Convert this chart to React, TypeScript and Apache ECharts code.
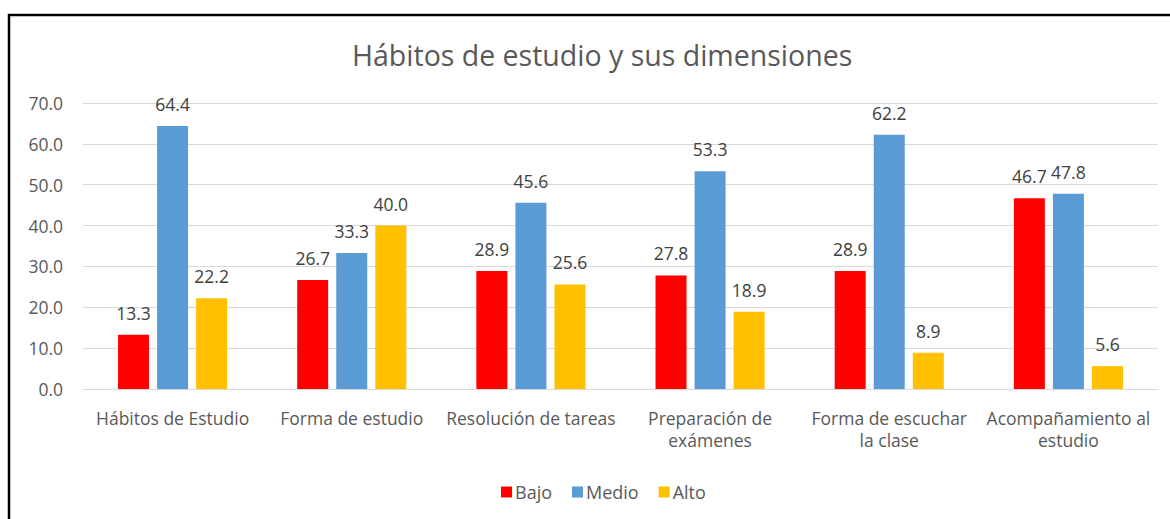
import React, { useEffect, useRef } from "react";
import * as echarts from "echarts";

const categories = [
  "Hábitos de Estudio",
  "Forma de estudio",
  "Resolución de tareas",
  "Preparación de\nexámenes",
  "Forma de escuchar\nla clase",
  "Acompañamiento al\nestudio",
];
const bajo = [13.3, 26.7, 28.9, 27.8, 28.9, 46.7];
const medio = [64.4, 33.3, 45.6, 53.3, 62.2, 47.8];
const alto = [22.2, 40.0, 25.6, 18.9, 8.9, 5.6];
const seriesNames = ["Bajo", "Medio", "Alto"];
const colors = ["#FF0000", "#5B9BD5", "#FFC000"];
const title = "Hábitos de estudio y sus dimensiones";

const FONT = "'Open Sans', 'Noto Sans', sans-serif";

export default function App() {
  const ref = useRef<HTMLDivElement>(null);
  useEffect(() => {
    const chart = echarts.init(ref.current!, undefined, { renderer: "svg" });
    const values = [bajo, medio, alto];
    chart.setOption({
      animation: false,
      backgroundColor: "#ffffff",
      title: {
        text: title,
        left: 347,
        top: 35,
        textStyle: { fontFamily: FONT, fontSize: 28.5, fontWeight: "normal", color: "#595959" },
      },
      legend: {
        data: seriesNames,
        left: 496,
        top: 478,
        itemWidth: 11,
        itemHeight: 11,
        itemGap: 20,
        icon: "rect",
        textStyle: { fontFamily: FONT, fontSize: 18, color: "#595959", padding: [0, 0, 0, -2] },
      },
      grid: { left: 83, right: 12, top: 103, bottom: 130, containLabel: false },
      xAxis: {
        type: "category",
        data: categories,
        axisLine: { lineStyle: { color: "#d9d9d9", width: 1 } },
        axisTick: { show: false },
        axisLabel: {
          fontFamily: FONT,
          fontSize: 17.5,
          color: "#595959",
          margin: 18,
          lineHeight: 22,
          interval: 0,
        },
      },
      yAxis: {
        type: "value",
        min: 0,
        max: 70,
        interval: 10,
        axisLine: { show: false },
        axisTick: { show: false },
        splitLine: { lineStyle: { color: "#d9d9d9", width: 1 } },
        axisLabel: {
          fontFamily: FONT,
          fontSize: 17.5,
          color: "#595959",
          margin: 20,
          formatter: (v: number) => v.toFixed(1),
        },
      },
      series: seriesNames.map((name, i) => ({
        name,
        type: "bar",
        data: values[i],
        barWidth: 31,
        barGap: "26%",
        itemStyle: { color: colors[i] },
        label: {
          show: true,
          position: "top",
          distance: 13,
          fontFamily: FONT,
          fontSize: 17.5,
          color: "#404040",
          formatter: (p: any) => Number(p.value).toFixed(1),
        },
      })),
      graphic: [
        {
          type: "rect",
          shape: { x: 9, y: 15, width: 1300, height: 700 },
          style: { fill: "none", stroke: "#000000", lineWidth: 2.5 },
          silent: true,
          z: 100,
        },
      ],
    });
    return () => chart.dispose();
  }, []);
  return (
    <div
      ref={ref}
      style={{ position: "fixed", left: 0, top: 0, width: 1170, height: 519 }}
    />
  );
}
